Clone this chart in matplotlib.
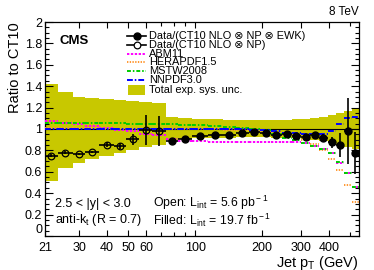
import numpy as np
import matplotlib
matplotlib.use("Agg")
import matplotlib.pyplot as plt
from matplotlib.patches import Rectangle
from matplotlib.ticker import FixedLocator, NullFormatter, MultipleLocator

plt.rcParams['font.family'] = ['Liberation Sans', 'DejaVu Sans']
plt.rcParams['mathtext.fontset'] = 'custom'
plt.rcParams['mathtext.rm'] = 'Liberation Sans'
plt.rcParams['mathtext.it'] = 'Liberation Sans:italic'

# ---- data ----
bin_edges = [21, 24, 28, 32, 37, 43, 49, 56, 64, 74, 84, 97, 114, 133, 153, 174,
             196, 220, 245, 272, 300, 330, 362, 395, 430, 468, 507, 548]

open_ratio = [0.75, 0.78, 0.765, 0.785, 0.855, 0.84, 0.905, 0.99, 0.98]
open_err = [0.012, 0.012, 0.012, 0.012, 0.02, 0.025, 0.05, 0.14, 0.14]

filled_ratio = [0.89, 0.905, 0.93, 0.945, 0.945, 0.96, 0.97, 0.965, 0.945, 0.955,
                0.935, 0.925, 0.945, 0.92, 0.875, 0.85, 0.98, 0.775]
filled_err = [0.008, 0.008, 0.008, 0.008, 0.01, 0.01, 0.012, 0.012, 0.015, 0.015,
              0.015, 0.02, 0.02, 0.03, 0.05, 0.11, 0.31, 0.2]

band_up = [1.42, 1.35, 1.30, 1.29, 1.28, 1.27, 1.26, 1.25, 1.24,
           1.11, 1.10, 1.095, 1.09, 1.085, 1.08, 1.08, 1.08, 1.08, 1.085, 1.09,
           1.095, 1.10, 1.115, 1.13, 1.15, 1.17, 1.19]
band_lo = [0.51, 0.64, 0.68, 0.72, 0.75, 0.78, 0.80, 0.83, 0.85,
           0.90, 0.91, 0.915, 0.92, 0.92, 0.925, 0.925, 0.925, 0.92, 0.92, 0.915,
           0.91, 0.90, 0.885, 0.87, 0.85, 0.83, 0.81]

abm11 = [1.075, 1.06, 1.045, 1.03, 1.01, 0.995, 0.98, 0.955, 0.94, 0.905, 0.89,
         0.885, 0.88, 0.88, 0.88, 0.88, 0.88, 0.88, 0.88, 0.875, 0.865, 0.84,
         0.81, 0.775, 0.685, 0.585, 0.46]
herapdf = [1.01, 1.01, 1.005, 1.005, 1.0, 1.0, 1.0, 1.0, 1.0, 1.0, 1.0, 1.0,
           1.0, 0.99, 0.99, 0.99, 0.985, 0.97, 0.95, 0.93, 0.90, 0.86, 0.80,
           0.72, 0.62, 0.48, 0.32]
mstw = [1.06, 1.06, 1.06, 1.06, 1.055, 1.055, 1.05, 1.05, 1.05, 1.045, 1.04,
        1.035, 1.03, 1.02, 1.01, 1.0, 0.99, 0.95, 0.92, 0.90, 0.87, 0.84, 0.81,
        0.78, 0.69, 0.59, 0.46]
nnpdf = [1.0, 1.0, 1.0, 1.0, 1.0, 1.0, 1.0, 1.0, 1.0, 1.0, 1.0, 1.0, 1.0, 1.0,
         1.0, 0.995, 0.99, 0.98, 0.965, 0.96, 0.955, 0.955, 0.955, 0.98, 1.045,
         1.10, 1.115]

x_major = [21, 30, 40, 50, 60, 100, 200, 300, 400]
x_minor = [70, 80, 90, 500]

# ---- figure ----
fig = plt.figure(figsize=(3.74, 2.70), dpi=100)
ax = fig.add_axes([0.120, 0.126, 0.840, 0.7925])

edges = np.array(bin_edges, dtype=float)
lo = edges[:-1]
hi = edges[1:]
centers = np.sqrt(lo * hi)
n_open = len(open_ratio)

YEL = '#c8c800'
ax.bar(lo, np.array(band_up) - np.array(band_lo), width=hi - lo,
       bottom=band_lo, align='edge', color=YEL, linewidth=0, zorder=1)

ax.axhline(1.0, color='black', lw=0.8, zorder=2)

styles = [
    (abm11, '#ff00ff', (0, (1.2, 0.8))),
    (herapdf, '#ff9933', (0, (0.7, 0.7))),
    (mstw, '#00cc00', (0, (2.0, 1.0, 0.8, 1.0))),
    (nnpdf, '#0000ff', (0, (3.0, 1.0, 0.8, 1.0))),
]
for vals, col, ls in styles:
    ax.hlines(vals, lo, hi, colors=col, linestyles=[ls], lw=1.4, zorder=3)

xo = centers[:n_open]
xf = centers[n_open:]
ax.errorbar(xo, open_ratio, yerr=open_err,
            xerr=[xo - lo[:n_open], hi[:n_open] - xo],
            fmt='o', ms=4.8, mfc='none', mec='black', mew=0.9,
            ecolor='black', elinewidth=1.2, capsize=0, zorder=5)
ax.errorbar(xf, filled_ratio, yerr=filled_err,
            xerr=[xf - lo[n_open:], hi[n_open:] - xf],
            fmt='o', ms=5.0, mfc='black', mec='black',
            ecolor='black', elinewidth=1.2, capsize=0, zorder=5)

ax.set_xscale('log')
ax.set_xlim(21, 548)
ax.set_ylim(0, 2)
ax.xaxis.set_major_locator(FixedLocator(x_major))
ax.xaxis.set_minor_locator(FixedLocator(x_minor))
ax.set_xticklabels([str(v) for v in x_major])
ax.xaxis.set_minor_formatter(NullFormatter())
ax.yaxis.set_minor_locator(MultipleLocator(0.05))
ax.set_yticks([0, 0.2, 0.4, 0.6, 0.8, 1.0, 1.2, 1.4, 1.6, 1.8, 2.0])
ax.set_yticklabels(['0', '0.2', '0.4', '0.6', '0.8', '1', '1.2', '1.4', '1.6', '1.8', '2'])
ax.tick_params(which='both', direction='in', top=True, right=True, labelsize=9, pad=2)
ax.tick_params(which='major', length=6, width=0.8)
ax.tick_params(which='minor', length=3, width=0.8)
ax.tick_params(axis='x', which='major', length=4, pad=4)
for s in ax.spines.values():
    s.set_linewidth(0.9)
# lift the "0" y label a little so it does not touch the "21" x label
ax.get_yticklabels()[0].set_va('bottom')

ax.set_ylabel('Ratio to CT10', fontsize=10.5, loc='top', labelpad=2)
ax.set_xlabel(r'Jet p$_{\rm T}$ (GeV)', fontsize=10.5, loc='right', labelpad=0)

fig.text(0.958, 0.955, '8 TeV', ha='right', va='center', fontsize=8.5)
ax.text(0.045, 0.91, 'CMS', transform=ax.transAxes, fontsize=9.5, fontweight='bold',
        ha='left', va='center')

# legend (drawn manually)
rows = [0.935, 0.893, 0.852, 0.811, 0.770, 0.729, 0.682]
labels = ['Data/(CT10 NLO \u2297 NP \u2297 EWK)', 'Data/(CT10 NLO \u2297 NP)',
          'ABM11', 'HERAPDF1.5', 'MSTW2008', 'NNPDF3.0', 'Total exp. sys. unc.']
hx0, hx1, tx = 0.262, 0.322, 0.332
ax.plot([hx0, hx1], [rows[0]] * 2, transform=ax.transAxes, color='black', lw=1.2,
        zorder=6)
ax.plot([(hx0 + hx1) / 2], [rows[0]], 'o', ms=5, color='black', transform=ax.transAxes,
        zorder=6)
ax.plot([hx0, hx1], [rows[1]] * 2, transform=ax.transAxes, color='black', lw=1.2,
        zorder=6)
ax.plot([(hx0 + hx1) / 2], [rows[1]], 'o', ms=4.8, mfc='white', mec='black', mew=0.9,
        transform=ax.transAxes, zorder=7)
for i, (vals, col, ls) in enumerate(styles):
    ax.plot([hx0, hx1], [rows[2 + i]] * 2, transform=ax.transAxes, color=col,
            ls=ls, lw=1.4, zorder=6)
ax.add_patch(Rectangle((hx0 + 0.004, rows[6] - 0.025), hx1 - hx0 - 0.006, 0.05,
                       transform=ax.transAxes, color=YEL, lw=0, zorder=6))
for r, lab in zip(rows, labels):
    ax.text(tx, r, lab, transform=ax.transAxes, fontsize=7.9, ha='left', va='center',
            zorder=6)

ax.text(0.032, 0.15, '2.5 < |y| < 3.0', transform=ax.transAxes, fontsize=9,
        ha='left', va='center')
ax.text(0.032, 0.075, r'anti-k$_{\rm t}$ (R = 0.7)', transform=ax.transAxes, fontsize=9,
        ha='left', va='center')
ax.text(0.345, 0.155, r'Open: L$_{\rm int}$ = 5.6 pb$^{\rm -1}$', transform=ax.transAxes,
        fontsize=8.8, ha='left', va='center')
ax.text(0.345, 0.075, r'Filled: L$_{\rm int}$ = 19.7 fb$^{\rm -1}$', transform=ax.transAxes,
        fontsize=8.8, ha='left', va='center')

fig.savefig('out.png', dpi=100)
